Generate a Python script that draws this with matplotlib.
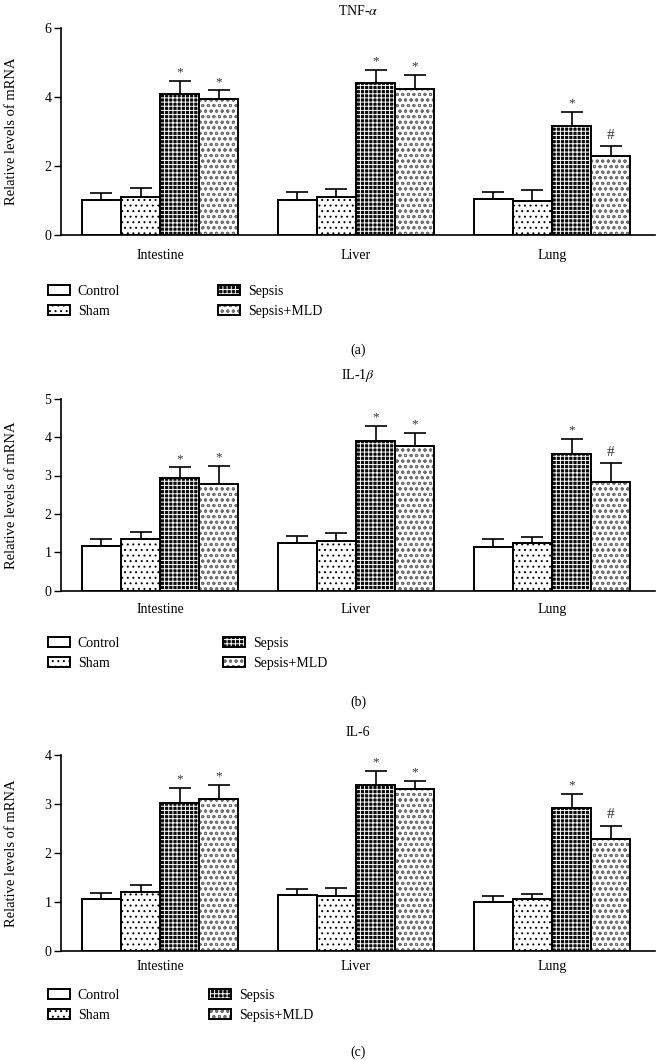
import matplotlib
matplotlib.use("Agg")
import matplotlib.pyplot as plt
import numpy as np
from matplotlib.legend_handler import HandlerTuple

plt.rcParams['font.family'] = ['Liberation Serif', 'DejaVu Serif']
plt.rcParams['mathtext.fontset'] = 'stix'
plt.rcParams['hatch.linewidth'] = 0.7

organs = ['Intestine', 'Liver', 'Lung']
groups = ['Control', 'Sham', 'Sepsis', 'Sepsis+MLD']

# panel (a) TNF-alpha, one row per group, one column per organ
tnf_mean = [[1.02, 1.02, 1.04],
            [1.09, 1.09, 0.98],
            [4.08, 4.40, 3.17],
            [3.94, 4.23, 2.29]]
tnf_top = [[1.21, 1.26, 1.26],
           [1.36, 1.34, 1.31],
           [4.48, 4.80, 3.57],
           [4.20, 4.64, 2.57]]

# panel (b) IL-1beta
il1_mean = [[1.17, 1.25, 1.13],
            [1.35, 1.30, 1.25],
            [2.93, 3.91, 3.57],
            [2.79, 3.77, 2.84]]
il1_top = [[1.35, 1.43, 1.34],
           [1.53, 1.51, 1.41],
           [3.21, 4.30, 3.96],
           [3.26, 4.11, 3.32]]

# panel (c) IL-6
il6_mean = [[1.06, 1.14, 0.99],
            [1.20, 1.12, 1.06],
            [3.02, 3.39, 2.92],
            [3.09, 3.29, 2.28]]
il6_top = [[1.18, 1.26, 1.12],
           [1.35, 1.27, 1.16],
           [3.33, 3.67, 3.20],
           [3.39, 3.46, 2.55]]

# significance marks above Sepsis and Sepsis+MLD bars
marks = [['', '', ''],
         ['', '', ''],
         ['*', '*', '*'],
         ['*', '*', '#']]

W, H = 657, 1061
fig = plt.figure(figsize=(W / 100, H / 100), dpi=100)

# bar fill styles: (face colour, hatch, hatch colour)
styles = [('white', None, 'black'),
          ('white', '...', 'black'),
          ('#0a0a0a', '++++', 'white'),
          ('white', 'ooo', '#707070')]

panels = [
    dict(title='TNF-$\\alpha$', mean=tnf_mean, top=tnf_top, ymax=6, ticks=[0, 2, 4, 6],
         ax_top=28.3, ax_bot=235, title_y=11, xpad=10, leg_y=293, leg_x2=218, lab='(a)', lab_y=350),
    dict(title='IL-1$\\beta$', mean=il1_mean, top=il1_top, ymax=5, ticks=[0, 1, 2, 3, 4, 5],
         ax_top=398.7, ax_bot=590.7, title_y=376, xpad=9, leg_y=645, leg_x2=223, lab='(b)', lab_y=702),
    dict(title='IL-6', mean=il6_mean, top=il6_top, ymax=4, ticks=[0, 1, 2, 3, 4],
         ax_top=754.7, ax_bot=950.7, title_y=733, xpad=7, leg_y=997, leg_x2=209, lab='(c)', lab_y=1052),
]

centers = np.array([0, 5, 10])
offsets = [-1.5, -0.5, 0.5, 1.5]
left, right = 61, 655
fs = 10

for p in panels:
    ax = fig.add_axes([left / W, 1 - p['ax_bot'] / H, (right - left) / W,
                       (p['ax_bot'] - p['ax_top']) / H])
    handles = []
    for g in range(4):
        x = centers + offsets[g]
        mean = np.array(p['mean'][g])
        err = np.array(p['top'][g]) - mean
        face, hatch, hcol = styles[g]
        fill = ax.bar(x, mean, width=1.0, color=face, edgecolor=hcol, hatch=hatch,
                      linewidth=0, zorder=2)
        edge = ax.bar(x, mean, width=1.0, color='none', edgecolor='black',
                      linewidth=1.4, zorder=3)
        ax.errorbar(x, mean, yerr=[np.zeros_like(err), err], fmt='none',
                    ecolor='black', elinewidth=1.2, capsize=8, capthick=1.2, zorder=4)
        for xi, ti, m in zip(x, p['top'][g], marks[g]):
            if m:
                ax.annotate(m, (xi, ti), xytext=(0, 8 if m == '#' else 6),
                            textcoords='offset points', ha='center', va='center',
                            fontsize=11 if m == '#' else 9.5, color='#333333')
        handles.append((fill[0], edge[0]))

    ax.set_xlim(-2.53, 12.63)
    ax.set_ylim(0, p['ymax'])
    ax.set_yticks(p['ticks'])
    ax.set_xticks(centers, organs)
    ax.tick_params(axis='x', length=0, pad=p['xpad'], labelsize=fs)
    ax.tick_params(axis='y', length=5, width=1, direction='out', labelsize=fs, pad=2)
    for s in ['top', 'right']:
        ax.spines[s].set_visible(False)
    ax.spines['left'].set_linewidth(1.2)
    ax.spines['bottom'].set_linewidth(1.2)
    ax.set_ylabel('Relative levels of mRNA', fontsize=10.5)
    ax.yaxis.set_label_coords(-0.072, 0.5)

    fig.text(358 / W, 1 - p['title_y'] / H, p['title'], ha='center', va='center', fontsize=fs)
    fig.text(358 / W, 1 - p['lab_y'] / H, p['lab'], ha='center', va='center', fontsize=fs)

    ytop = 1 - (p['leg_y'] - 8) / H
    common = dict(loc='upper left', frameon=False, borderpad=0, borderaxespad=0,
                  handlelength=1.55, handleheight=0.7, handletextpad=0.6,
                  labelspacing=0.5, fontsize=fs,
                  handler_map={tuple: HandlerTuple(ndivide=1, pad=0)})
    fig.legend(handles[:2], groups[:2], bbox_to_anchor=(48 / W, ytop), **common)
    fig.legend(handles[2:], groups[2:], bbox_to_anchor=(p['leg_x2'] / W, ytop), **common)

fig.savefig('out.png', dpi=100)
